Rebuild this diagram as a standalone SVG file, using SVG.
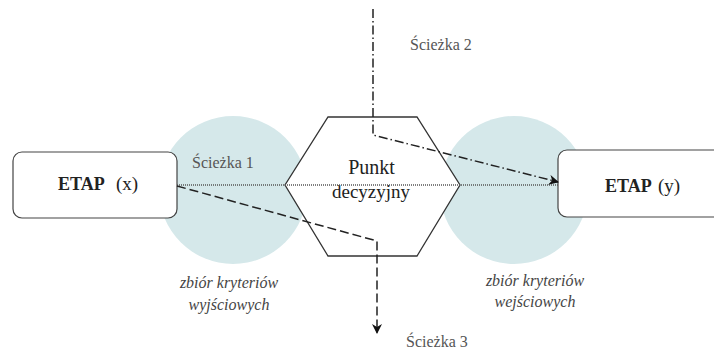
<svg xmlns="http://www.w3.org/2000/svg" width="714" height="350" viewBox="0 0 714 350">
<defs>
<style>
.circ{fill:#d5e8ea;stroke:none}
.box{fill:#fff;stroke:#444;stroke-width:1.2}
.hex{fill:#fff;stroke:#333;stroke-width:1.3}
text{font-family:"Liberation Serif","Times New Roman",serif}
.t{fill:#222}
.lbl{font-size:16px;fill:#555}
.it{font-size:16px;font-style:italic;fill:#444}
.ln{fill:none;stroke:#222;stroke-width:1.5}
</style>
<marker id="ah" viewBox="0 0 10 10" refX="9" refY="5" markerWidth="10" markerHeight="10" markerUnits="userSpaceOnUse" orient="auto">
<path d="M0,0 L10,5 L0,10 L3,5 Z" fill="#111"/>
</marker>
</defs>
<rect width="714" height="350" fill="#fff"/>
<g id="criteria-out">
<circle class="circ" cx="233" cy="190" r="74"/>
<text class="it" font-family="Liberation Serif, serif" x="229" y="288" text-anchor="middle">zbiór kryteriów</text>
<text class="it" font-family="Liberation Serif, serif" x="229" y="310" text-anchor="middle">wyjściowych</text>
</g>
<g id="criteria-in">
<circle class="circ" cx="514" cy="190" r="74"/>
<text class="it" font-family="Liberation Serif, serif" x="535" y="286" text-anchor="middle">zbiór kryteriów</text>
<text class="it" font-family="Liberation Serif, serif" x="535" y="307" text-anchor="middle">wejściowych</text>
</g>
<g id="etap-x">
<rect class="box" x="13" y="152" width="164" height="66" rx="9"/>
<text class="t" font-family="Liberation Serif, serif" x="58" y="190" font-size="18"><tspan font-weight="bold">ETAP</tspan><tspan x="116" font-size="19">(x)</tspan></text>
</g>
<g id="etap-y">
<rect class="box" x="558" y="150" width="170" height="67" rx="9"/>
<text class="t" font-family="Liberation Serif, serif" x="605" y="192" font-size="18"><tspan font-weight="bold">ETAP</tspan><tspan x="658" font-size="19">(y)</tspan></text>
</g>
<g id="decision">
<polygon class="hex" points="328,117 417,117 460,185 417,256 328,256 285,185"/>
<text class="t" font-family="Liberation Serif, serif" x="371.5" y="174" font-size="20" text-anchor="middle">Punkt</text>
<text class="t" font-family="Liberation Serif, serif" x="371" y="198" font-size="19" text-anchor="middle">decyzyjny</text>
</g>
<g id="connectors">
<line x1="177" y1="185" x2="558" y2="185" fill="none" stroke="#555" stroke-width="1.4" stroke-dasharray="1 1"/>
<path class="ln" d="M373,9 L373,135 L558,182" stroke-dasharray="9 3 1.5 3" marker-end="url(#ah)"/>
<path class="ln" d="M177,186 L377,241 L377,333" stroke-dasharray="9 4" marker-end="url(#ah)"/>
</g>
<g id="labels">
<text class="lbl" font-family="Liberation Serif, serif" x="192" y="168">Ścieżka 1</text>
<text class="lbl" font-family="Liberation Serif, serif" x="410" y="50">Ścieżka 2</text>
<text class="lbl" font-family="Liberation Serif, serif" x="406" y="347">Ścieżka 3</text>
</g>
</svg>
